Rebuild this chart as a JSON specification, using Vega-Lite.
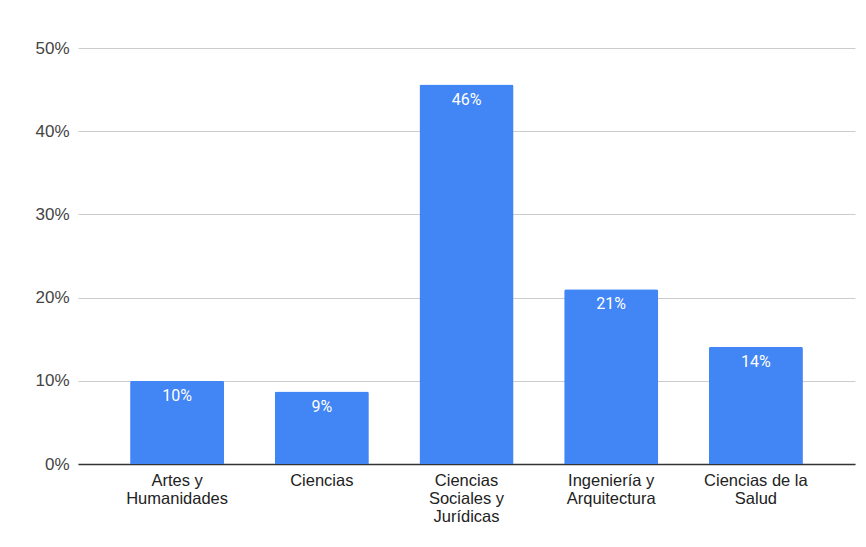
{
  "$schema": "https://vega.github.io/schema/vega-lite/v6.json",
  "width": 777,
  "height": 416,
  "autosize": {"type": "none"},
  "padding": {"left": 78, "top": 48, "right": 11, "bottom": 83},
  "background": "white",
  "config": {"view": {"stroke": null}},
  "data": {
    "values": [
      {"rama": "Artes y Humanidades", "pct": 0.1},
      {"rama": "Ciencias", "pct": 0.087},
      {"rama": "Ciencias Sociales y Jurídicas", "pct": 0.456},
      {"rama": "Ingeniería y Arquitectura", "pct": 0.21},
      {"rama": "Ciencias de la Salud", "pct": 0.141}
    ]
  },
  "encoding": {
    "x": {
      "field": "rama",
      "type": "nominal",
      "sort": null,
      "scale": {"paddingInner": 0.35, "paddingOuter": 0.36},
      "axis": {
        "title": null,
        "labelAngle": 0,
        "labelFont": "Liberation Sans",
        "labelFontSize": 16.5,
        "labelLineHeight": 18,
        "labelColor": "#222222",
        "labelPadding": 8,
        "labelLimit": 200,
        "ticks": false,
        "domainColor": "#333333",
        "domainWidth": 1.5,
        "labelExpr": "datum.label == 'Artes y Humanidades' ? ['Artes y', 'Humanidades'] : datum.label == 'Ciencias Sociales y Jurídicas' ? ['Ciencias', 'Sociales y', 'Jurídicas'] : datum.label == 'Ingeniería y Arquitectura' ? ['Ingeniería y', 'Arquitectura'] : datum.label == 'Ciencias de la Salud' ? ['Ciencias de la', 'Salud'] : datum.label"
      }
    },
    "y": {
      "field": "pct",
      "type": "quantitative",
      "scale": {"domain": [0, 0.5], "nice": false},
      "axis": {
        "title": null,
        "format": ".0%",
        "values": [0, 0.1, 0.2, 0.3, 0.4, 0.5],
        "domain": false,
        "ticks": false,
        "labelFont": "Liberation Sans",
        "labelFontSize": 17,
        "labelColor": "#444444",
        "labelPadding": 9,
        "gridColor": "#cccccc",
        "gridWidth": 1
      }
    }
  },
  "layer": [
    {
      "mark": {"type": "bar", "color": "#4285F4", "cornerRadiusTopLeft": 2, "cornerRadiusTopRight": 2}
    },
    {
      "mark": {
        "type": "text",
        "baseline": "top",
        "dy": 7,
        "color": "white",
        "font": "Roboto",
        "fontSize": 16,
        "fontWeight": "normal"
      },
      "encoding": {
        "text": {"field": "pct", "type": "quantitative", "format": ".0%"}
      }
    }
  ]
}
